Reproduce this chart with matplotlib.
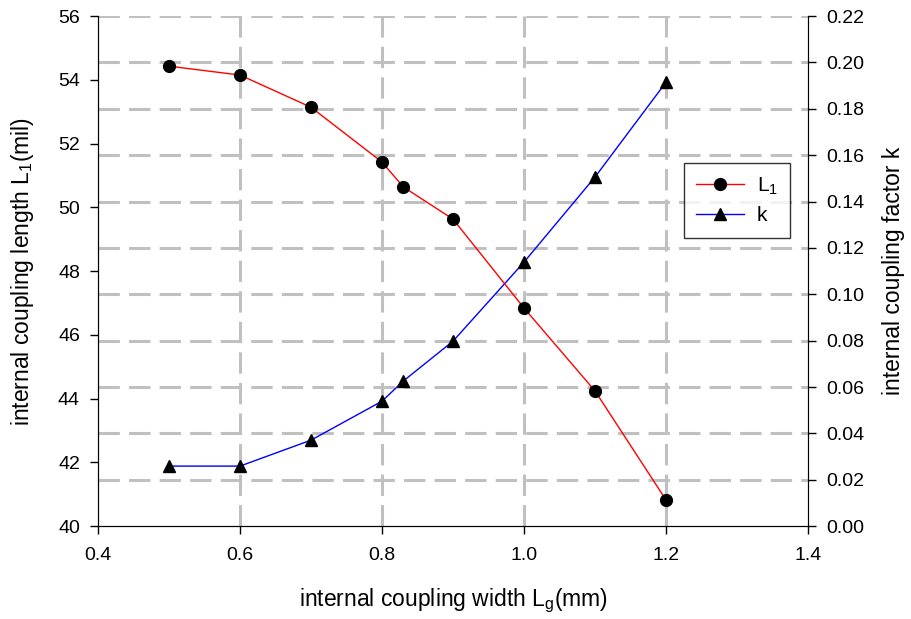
import matplotlib
matplotlib.use("Agg")
import matplotlib.pyplot as plt
import numpy as np

plt.rcParams['font.family'] = ['Liberation Sans', 'DejaVu Sans']
plt.rcParams['mathtext.default'] = 'regular'

# coupling width Lg (mm)
lg = [0.5, 0.6, 0.7, 0.8, 0.83, 0.9, 1.0, 1.1, 1.2]
# internal coupling length L1 (mil)
l1 = [54.43, 54.15, 53.14, 51.42, 50.64, 49.63, 46.84, 44.24, 40.82]
# internal coupling factor k
k = [0.0259, 0.0259, 0.0371, 0.0539, 0.0626, 0.0798, 0.1139, 0.1506, 0.1915]

fig = plt.figure(figsize=(9.11, 6.19), dpi=100)
ax = fig.add_axes([0.1076, 0.150, 0.7794, 0.824])
ax2 = ax.twinx()

# grid drawn on the right axis ticks plus vertical lines at x ticks
gridkw = dict(color='#c0c0c0', lw=2.2, dashes=(7, 3), zorder=0)
for yv in np.arange(0.02, 0.221, 0.02):
    ax2.axhline(yv, **gridkw)
for xv in [0.6, 0.8, 1.0, 1.2]:
    ax2.axvline(xv, **gridkw)

ln1, = ax.plot(lg, l1, color='red', lw=1.0, marker='o', ms=8.5,
               mfc='black', mec='black', label='L$_1$', zorder=3)
ln2, = ax2.plot(lg, k, color='blue', lw=1.0, marker='^', ms=9,
                mfc='black', mec='black', label='k', zorder=3)

ax.set_xlim(0.4, 1.4)
ax.set_ylim(40, 56)
ax2.set_ylim(0, 0.22)
ax.set_xticks(np.arange(0.4, 1.41, 0.2))
ax.set_xticklabels([f'{v:.1f}' for v in np.arange(0.4, 1.41, 0.2)])
ax.set_yticks(range(40, 57, 2))
ax2.set_yticks(np.arange(0, 0.221, 0.02))
ax2.set_yticklabels([f'{v:.2f}' for v in np.arange(0, 0.221, 0.02)])

for a in (ax, ax2):
    a.tick_params(direction='out', length=6, width=1, labelsize=14,
                  colors='black', pad=7)
    a.spines['top'].set_visible(False)
ax.tick_params(axis='x', pad=9)
ax2.set_zorder(ax.get_zorder() - 1)
ax.patch.set_visible(False)
ax2.spines['right'].set_color('#333333')

ax.set_xlabel('internal coupling width L$_{g}$(mm)', fontsize=16.5, labelpad=16)
ax.set_ylabel('internal coupling length L$_{1}$(mil)', fontsize=16.5, labelpad=16)
ax2.set_ylabel('internal coupling factor k', fontsize=16.5, labelpad=13)

leg = ax.legend(handles=[ln1, ln2], loc='upper left', bbox_to_anchor=(0.825, 0.712),
                frameon=True, fancybox=False, edgecolor='black', fontsize=15,
                handlelength=2.3, borderpad=0.6, labelspacing=0.45,
                handletextpad=0.6, borderaxespad=0)
leg.get_frame().set_linewidth(1.0)

fig.savefig('out.png', dpi=100)
